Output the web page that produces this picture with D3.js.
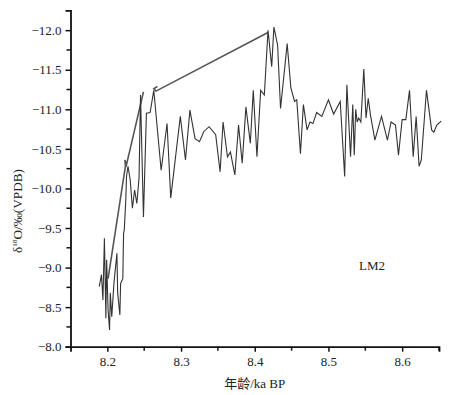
<!DOCTYPE html>
<html>
<head>
<meta charset="utf-8">
<script src="https://cdnjs.cloudflare.com/ajax/libs/d3/7.8.5/d3.min.js"></script>
<style>
  body { margin: 0; background: #fff; }
  .tick text { font-family: "Liberation Serif", "Times New Roman", serif; font-size: 13px; fill: #222; }
  .lbl { font-family: "Liberation Serif", "Noto Sans CJK SC", serif; font-size: 13px; fill: #222; }
</style>
</head>
<body>
<div id="chart"></div>
<script>
// age (ka BP) and d18O (per mil VPDB) in plotted order
var age = [8.189, 8.192, 8.194, 8.196, 8.198, 8.199, 8.201, 8.203, 8.204, 8.206,
  8.209, 8.213, 8.214, 8.217, 8.218, 8.221, 8.222, 8.223, 8.225, 8.226,
  8.228, 8.231, 8.234, 8.237, 8.240, 8.243, 8.245, 8.249, 8.253, 8.258,
  8.263, 8.273, 8.281, 8.286, 8.299, 8.306, 8.312, 8.319, 8.325, 8.331,
  8.338, 8.347, 8.353, 8.357, 8.363, 8.367, 8.373, 8.378, 8.383, 8.388,
  8.394, 8.398, 8.403, 8.408, 8.413, 8.418, 8.423, 8.426, 8.431, 8.435,
  8.444, 8.449, 8.454, 8.457, 8.462, 8.466, 8.471, 8.475, 8.479, 8.484,
  8.491, 8.500, 8.507, 8.516, 8.522, 8.525, 8.530, 8.533, 8.535, 8.537,
  8.539, 8.541, 8.544, 8.548, 8.551, 8.554, 8.557, 8.563, 8.572, 8.580,
  8.585, 8.591, 8.595, 8.600, 8.605, 8.610, 8.615, 8.619, 8.623, 8.626,
  8.633, 8.640, 8.643, 8.647, 8.653];
var d18O = [-8.76, -8.91, -8.59, -9.37, -8.36, -9.10, -8.46, -8.21, -8.68, -8.38,
  -8.81, -9.18, -8.68, -8.40, -8.80, -8.86, -9.43, -9.48, -9.85, -10.15,
  -10.28, -10.11, -9.75, -9.98, -9.81, -10.13, -11.18, -9.64, -10.95, -10.96,
  -11.24, -10.23, -10.82, -9.88, -10.91, -10.36, -10.99, -10.63, -10.59, -10.72,
  -10.78, -10.68, -10.21, -10.84, -10.40, -10.46, -10.17, -10.80, -10.32, -11.03,
  -10.57, -11.24, -10.40, -11.24, -11.18, -12.00, -11.54, -12.04, -11.81, -11.01,
  -11.83, -11.27, -11.10, -11.12, -10.44, -11.06, -10.74, -10.84, -10.82, -10.96,
  -10.91, -11.12, -10.94, -11.10, -10.15, -11.31, -10.40, -11.06, -10.42, -11.00,
  -10.84, -10.89, -10.84, -11.51, -10.89, -11.14, -10.93, -10.61, -10.91, -10.61,
  -10.84, -10.80, -10.42, -10.87, -10.87, -11.24, -10.40, -10.91, -10.28, -10.36,
  -11.24, -10.74, -10.71, -10.80, -10.85];

// back-running strokes drawn over the record
var backAge1 = [8.201, 8.2245, 8.2238, 8.226, 8.249];
var backD1 = [-8.86, -10.28, -10.36, -10.30, -11.22];
var backAge2 = [8.268, 8.263, 8.266, 8.418];
var backD2 = [-11.29, -11.26, -11.23, -11.97];

var xMajor = [8.2, 8.3, 8.4, 8.5, 8.6];
var xMinor = [8.25, 8.35, 8.45, 8.55, 8.65];
var yMajor = [-8.0, -8.5, -9.0, -9.5, -10.0, -10.5, -11.0, -11.5, -12.0];
var yMinor = [-8.25, -8.75, -9.25, -9.75, -10.25, -10.75, -11.25, -11.75];

var W = 452, H = 395;
var x = d3.scaleLinear().domain([8.15, 8.65]).range([70.5, 439]);
var y = d3.scaleLinear().domain([-8, -12.25]).range([346.7, 10.4]);

var svg = d3.select('#chart').append('svg')
  .attr('width', W).attr('height', H);

function fmt(v) { return d3.format('.1f')(v).replace('-', '\u2212'); }

// axes
var gx = svg.append('g').attr('transform', 'translate(0,' + y(-8) + ')');
gx.call(d3.axisBottom(x).tickValues(xMajor).tickSizeOuter(0).tickSize(5).tickPadding(5)
  .tickFormat(d3.format('.1f')));
gx.selectAll('.minor').data(xMinor).enter().append('line').attr('class', 'minor')
  .attr('x1', function(d) { return x(d); }).attr('x2', function(d) { return x(d); })
  .attr('y1', 0).attr('y2', 4).attr('stroke', '#111').attr('stroke-width', 1.5);

var gy = svg.append('g').attr('transform', 'translate(' + x(8.15) + ',0)');
gy.call(d3.axisLeft(y).tickValues(yMajor).tickSizeOuter(0).tickSize(5).tickPadding(4)
  .tickFormat(fmt));
gy.selectAll('.minor').data(yMinor).enter().append('line').attr('class', 'minor')
  .attr('y1', function(d) { return y(d); }).attr('y2', function(d) { return y(d); })
  .attr('x1', 0).attr('x2', -4).attr('stroke', '#111').attr('stroke-width', 1.5);

svg.selectAll('.domain').attr('stroke', '#111').attr('stroke-width', 1.8);
svg.selectAll('.tick line').attr('stroke', '#111').attr('stroke-width', 1.5);

// data lines
var line = d3.line().x(function(d) { return x(d[0]); }).y(function(d) { return y(d[1]); });
var main = age.map(function(a, i) { return [a, d18O[i]]; });
var back1 = backAge1.map(function(a, i) { return [a, backD1[i]]; });
var back2 = backAge2.map(function(a, i) { return [a, backD2[i]]; });

svg.append('path').datum(back1).attr('d', line)
  .attr('fill', 'none').attr('stroke', '#555').attr('stroke-width', 1.6);
svg.append('path').datum(back2).attr('d', line)
  .attr('fill', 'none').attr('stroke', '#555').attr('stroke-width', 1.6);
svg.append('path').datum(main).attr('d', line)
  .attr('fill', 'none').attr('stroke', '#333').attr('stroke-width', 1.1);

// labels
svg.append('text').attr('class', 'lbl')
  .attr('x', (x(8.15) + x(8.65)) / 2).attr('y', 388)
  .attr('text-anchor', 'middle').text('年龄/ka BP');

var yl = svg.append('text').attr('class', 'lbl')
  .attr('text-anchor', 'middle').attr('font-size', '12px');
yl.append('tspan').text('δ');
yl.append('tspan').attr('font-size', '7px').attr('dy', -5).text('18');
yl.append('tspan').attr('dy', 5).text('O/‰(VPDB)');
// squeeze the label to the length it has in the figure
var lw = yl.node().getComputedTextLength();
yl.attr('transform', 'translate(22,211) rotate(-90) scale(' + (84 / lw) + ',1)');

svg.append('text').attr('class', 'lbl')
  .attr('x', 372).attr('y', 270).attr('text-anchor', 'middle').text('LM2');
</script>
</body>
</html>
